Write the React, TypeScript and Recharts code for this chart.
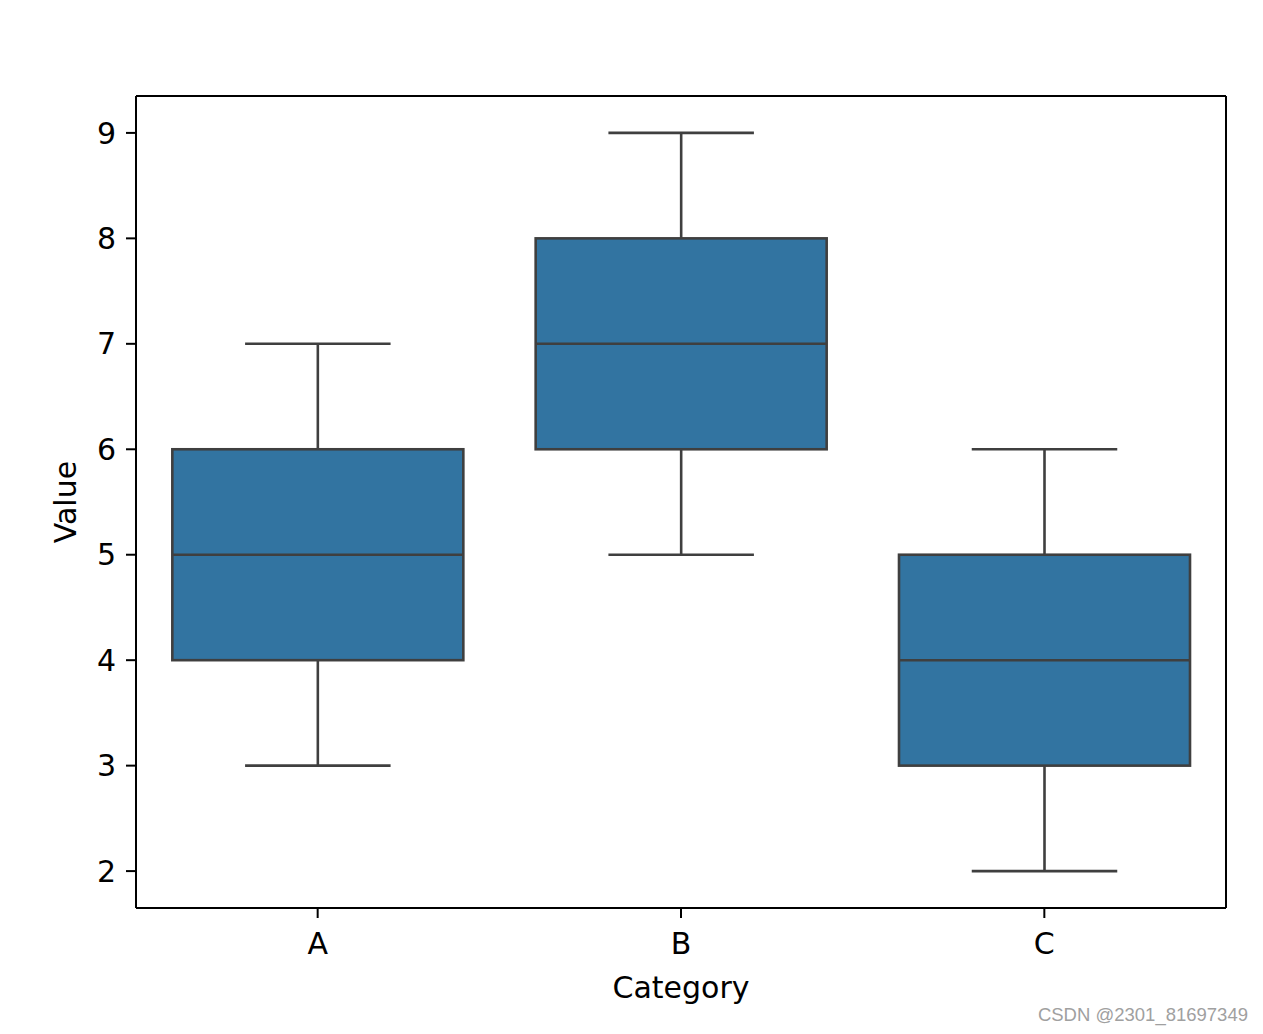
import React from 'react';
import { ComposedChart, Bar, XAxis, YAxis } from 'recharts';

const categories = ['A', 'B', 'C'];
const mins = [3, 5, 2];
const q1s = [4, 6, 3];
const medians = [5, 7, 4];
const q3s = [6, 8, 5];
const maxs = [7, 9, 6];
const yTicks = [2, 3, 4, 5, 6, 7, 8, 9];

const data = categories.map((c, i) => ({
  name: c,
  range: [mins[i], maxs[i]],
  min: mins[i],
  q1: q1s[i],
  median: medians[i],
  q3: q3s[i],
  max: maxs[i],
}));

const LINE = '#3f3f3f';
const FILL = '#3274a1';
const FONT = '"DejaVu Sans", sans-serif';

const BoxShape = (props: any) => {
  const { x, y, width, height, payload } = props;
  if (payload == null) return null;
  const top = Math.min(y, y + height);
  const bot = Math.max(y, y + height);
  const lo = payload.min;
  const hi = payload.max;
  const toPx = (v: number) => bot - ((v - lo) / (hi - lo)) * (bot - top);
  const cx = x + width / 2;
  const capHalf = width / 4;
  const yq1 = toPx(payload.q1);
  const yq3 = toPx(payload.q3);
  const ymed = toPx(payload.median);
  return (
    <g>
      <line x1={cx} x2={cx} y1={top} y2={yq3} stroke={LINE} strokeWidth={2.6} />
      <line x1={cx} x2={cx} y1={yq1} y2={bot} stroke={LINE} strokeWidth={2.6} />
      <line x1={cx - capHalf} x2={cx + capHalf} y1={top} y2={top} stroke={LINE} strokeWidth={2.6} />
      <line x1={cx - capHalf} x2={cx + capHalf} y1={bot} y2={bot} stroke={LINE} strokeWidth={2.6} />
      <rect x={x} y={yq3} width={width} height={yq1 - yq3} fill={FILL} stroke={LINE} strokeWidth={2.6} />
      <line x1={x} x2={x + width} y1={ymed} y2={ymed} stroke={LINE} strokeWidth={2.6} />
    </g>
  );
};

const YLabel = (props: any) => {
  const vb = props.viewBox || { x: 0, y: 88, width: 128, height: 812 };
  const cx = vb.x + 57;
  const cy = vb.y + vb.height / 2;
  return (
    <text x={cx} y={cy} transform={`rotate(-90 ${cx} ${cy})`} textAnchor="middle" dominantBaseline="central" fontSize={30} fontFamily={FONT} fill="#000">
      Value
    </text>
  );
};

const XLabel = (props: any) => {
  const vb = props.viewBox || { x: 128, y: 900, width: 1090, height: 110 };
  const cx = vb.x + vb.width / 2;
  const cy = vb.y + 79;
  return (
    <text x={cx} y={cy} textAnchor="middle" dominantBaseline="central" fontSize={30} fontFamily={FONT} fill="#000">
      Category
    </text>
  );
};

export default function App() {
  return (
    <div style={{ position: 'relative', width: 1240, height: 1026 }}>
      <ComposedChart
        width={1240}
        height={1010}
        data={data}
        margin={{ top: 87, right: 21, left: 0, bottom: 0 }}
        barCategoryGap="10%"
        style={{ fontFamily: FONT }}
      >
        <XAxis
          dataKey="name"
          type="category"
          height={110}
          tickSize={10}
          tickMargin={15}
          axisLine={{ stroke: '#000', strokeWidth: 2 }}
          tickLine={{ stroke: '#000', strokeWidth: 2 }}
          tick={{ fill: '#000', fontSize: 30, fontFamily: FONT }}
          label={<XLabel />}
        />
        <XAxis
          xAxisId="top"
          dataKey="name"
          orientation="top"
          height={1}
          tick={false}
          tickLine={false}
          axisLine={{ stroke: '#000', strokeWidth: 2 }}
        />
        <YAxis
          type="number"
          domain={[1.65, 9.35]}
          ticks={yTicks}
          allowDataOverflow
          width={128}
          tickSize={10}
          tickMargin={10}
          axisLine={{ stroke: '#000', strokeWidth: 2 }}
          tickLine={{ stroke: '#000', strokeWidth: 2 }}
          tick={{ fill: '#000', fontSize: 30, fontFamily: FONT }}
          label={<YLabel />}
        />
        <YAxis
          yAxisId="right"
          orientation="right"
          type="number"
          domain={[1.65, 9.35]}
          width={1}
          tick={false}
          tickLine={false}
          axisLine={{ stroke: '#000', strokeWidth: 2 }}
        />
        <Bar dataKey="range" shape={<BoxShape />} isAnimationActive={false} />
      </ComposedChart>
      <div
        style={{
          position: 'absolute',
          right: 0,
          top: 995,
          fontFamily: '"Liberation Sans", Arial, sans-serif',
          fontSize: 18.5,
          lineHeight: '24px',
          color: '#a0a0a0',
          whiteSpace: 'nowrap',
        }}
      >
        CSDN @2301_81697349
      </div>
    </div>
  );
}
